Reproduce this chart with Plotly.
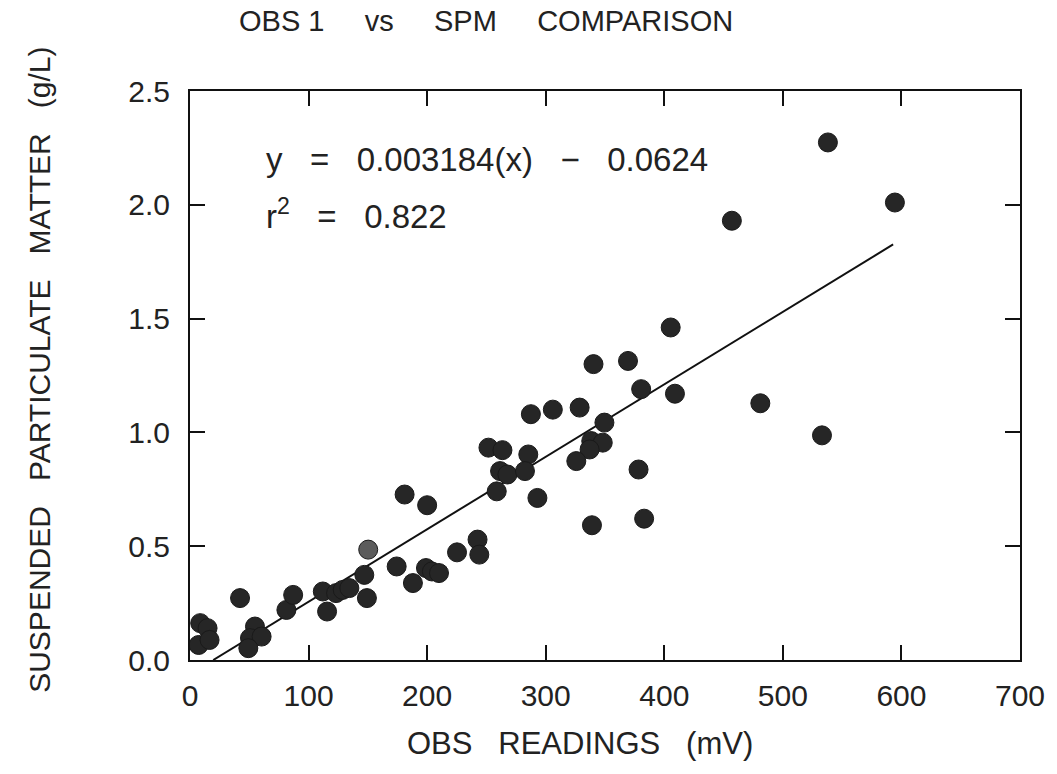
import plotly.graph_objects as go

obs_mv = [8.6, 14.8, 7.3, 16.5, 42.2, 54.8, 50.6, 60.4, 49.2, 81.3,
          87.0, 112.0, 115.6, 123.2, 128.8, 134.4, 147.0, 149.2, 150.3, 174.3,
          188.0, 199.0, 204.0, 210.0, 225.2, 242.5, 244.0, 181.0, 200.0, 251.7,
          263.5, 285.3, 261.5, 267.7, 282.5, 258.7, 293.0, 287.5, 306.0, 328.6,
          349.5, 338.4, 348.1, 337.0, 325.8, 378.3, 339.0, 383.0, 340.3, 369.4,
          380.5, 409.0, 405.4, 457.0, 538.0, 594.5, 481.0, 533.0]
spm_gL = [0.162, 0.140, 0.066, 0.088, 0.272, 0.147, 0.096, 0.103, 0.052, 0.220,
          0.286, 0.301, 0.213, 0.294, 0.308, 0.316, 0.374, 0.272, 0.485, 0.411,
          0.338, 0.404, 0.389, 0.382, 0.473, 0.529, 0.463, 0.727, 0.680, 0.933,
          0.922, 0.903, 0.830, 0.815, 0.830, 0.741, 0.712, 1.080, 1.100, 1.109,
          1.043, 0.962, 0.955, 0.925, 0.874, 0.837, 0.592, 0.621, 1.300, 1.314,
          1.190, 1.170, 1.461, 1.930, 2.274, 2.010, 1.128, 0.987]
faded_point = 18  # index of the lighter-printed sample

slope = 0.003184
intercept = -0.0624
fit_x = [-intercept / slope, 593.0]
fit_y = [slope * v + intercept for v in fit_x]

x_ticks = [0, 100, 200, 300, 400, 500, 600, 700]
y_ticks = [0.0, 0.5, 1.0, 1.5, 2.0, 2.5]

NB = "\u00a0"
title_text = "OBS 1" + NB * 5 + "vs" + NB * 5 + "SPM" + NB * 5 + "COMPARISON"
x_title = "OBS" + NB * 3 + "READINGS" + NB * 3 + "(mV)"
y_title = "SUSPENDED" + NB * 3 + "PARTICULATE" + NB * 3 + "MATTER" + NB * 3 + "(g/L)"
eq_text = "y" + NB * 3 + "=" + NB * 3 + "0.003184(x)" + NB * 3 + "−" + NB * 3 + "0.0624"
r2_text = "r<sup>2</sup>" + NB * 3 + "=" + NB * 3 + "0.822"

font_fam = "Liberation Sans, Arial, sans-serif"
marker_colors = ["#5c5c5c" if i == faded_point else "#262626" for i in range(len(obs_mv))]

fig = go.Figure()
fig.add_trace(go.Scatter(x=fit_x, y=fit_y, mode="lines",
                         line=dict(color="#111", width=2), hoverinfo="skip"))
fig.add_trace(go.Scatter(x=obs_mv, y=spm_gL, mode="markers",
                         marker=dict(size=19, color=marker_colors,
                                     line=dict(width=1, color="#1a1a1a"))))

axis_common = dict(showgrid=False, zeroline=False, showline=True, linecolor="#111",
                   linewidth=2, mirror="ticks", ticks="inside", ticklen=15,
                   tickwidth=1.5, tickcolor="#111",
                   tickfont=dict(family=font_fam, size=30, color="#222"))

fig.update_xaxes(range=[0, 700], tickvals=x_ticks, ticklabelstandoff=8, **axis_common)
fig.update_yaxes(range=[0, 2.5], tickvals=y_ticks, tickformat=".1f",
                 ticklabelstandoff=12, **axis_common)

fig.update_layout(
    width=1057, height=774,
    margin=dict(l=190, r=34, t=91, b=114),
    paper_bgcolor="white", plot_bgcolor="white",
    showlegend=False,
    annotations=[
        dict(text=title_text, xref="paper", yref="paper", x=0.357, y=1.0,
             xanchor="center", yanchor="bottom", yshift=52, showarrow=False,
             font=dict(family=font_fam, size=29, color="#222")),
        dict(text=x_title, xref="paper", yref="paper", x=0.47, y=0,
             xanchor="center", yanchor="top", yshift=-64, showarrow=False,
             font=dict(family=font_fam, size=31, color="#222")),
        dict(text=y_title, xref="paper", yref="paper", x=0, y=0.51,
             xanchor="center", yanchor="middle", xshift=-150, textangle=-90,
             showarrow=False,
             font=dict(family=font_fam, size=30, color="#222")),
        dict(text=eq_text, xref="x", yref="y", x=62, y=2.20,
             xanchor="left", yanchor="middle", showarrow=False,
             font=dict(family=font_fam, size=33, color="#222")),
        dict(text=r2_text, xref="x", yref="y", x=62, y=1.96,
             xanchor="left", yanchor="middle", showarrow=False,
             font=dict(family=font_fam, size=33, color="#222")),
    ],
)

fig.write_html("out.html")
